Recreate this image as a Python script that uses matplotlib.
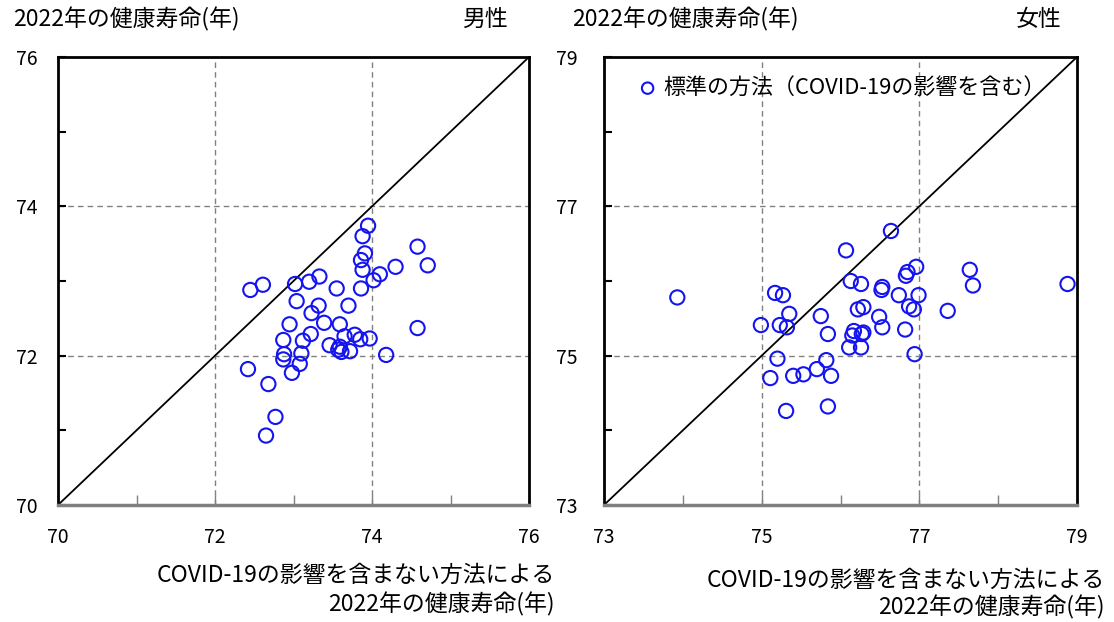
"""Healthy life expectancy 2022: standard method vs. COVID-19-excluded method, by prefecture."""

import matplotlib
matplotlib.use("Agg")
import matplotlib.pyplot as plt
from matplotlib.ticker import FixedLocator

plt.rcParams["font.family"] = ["Noto Sans CJK JP", "DejaVu Sans"]

# Men: x = method excluding COVID-19, y = standard method (years)
male_excl = [73.95, 73.88, 74.58, 73.91, 73.86, 73.88, 74.30, 74.71, 74.10, 74.02,
             73.86, 72.45, 72.61, 73.02, 73.20, 73.33, 73.55, 73.04, 73.32, 73.23,
             73.70, 72.95, 73.39, 73.59, 74.58, 73.22, 73.12, 72.87, 73.78, 73.65,
             73.85, 73.97, 73.46, 73.59, 73.61, 73.72, 72.88, 73.10, 72.87, 73.08,
             72.98, 74.18, 72.42, 72.68, 72.77, 72.65, 73.57]
male_std = [73.74, 73.60, 73.46, 73.37, 73.28, 73.15, 73.19, 73.21, 73.09, 73.01,
            72.90, 72.88, 72.95, 72.96, 72.99, 73.06, 72.90, 72.73, 72.67, 72.57,
            72.67, 72.42, 72.44, 72.42, 72.37, 72.29, 72.20, 72.21, 72.28, 72.26,
            72.22, 72.23, 72.14, 72.12, 72.05, 72.06, 72.02, 72.03, 71.95, 71.89,
            71.77, 72.01, 71.82, 71.62, 71.18, 70.93, 72.08]

# Women
female_excl = [73.93, 75.17, 75.27, 75.35, 74.99, 75.23, 75.32, 75.75, 75.84, 75.20,
               75.11, 75.40, 75.53, 75.70, 75.82, 75.88, 75.31, 75.84, 76.07, 76.64,
               76.13, 76.26, 76.53, 76.52, 76.74, 76.85, 76.83, 76.96, 76.99, 76.87,
               76.93, 76.22, 76.29, 76.49, 76.53, 76.82, 76.17, 76.15, 76.29, 76.27,
               76.11, 76.26, 76.94, 77.64, 77.68, 77.36, 78.88]
female_std = [75.78, 75.84, 75.81, 75.56, 75.41, 75.41, 75.38, 75.53, 75.29, 74.96,
              74.70, 74.73, 74.75, 74.82, 74.94, 74.73, 74.26, 74.32, 76.41, 76.67,
              76.00, 75.96, 75.92, 75.88, 75.81, 76.12, 76.07, 76.19, 75.81, 75.66,
              75.62, 75.62, 75.65, 75.52, 75.38, 75.35, 75.33, 75.27, 75.31, 75.29,
              75.11, 75.11, 75.02, 76.15, 75.94, 75.60, 75.96]

male_range = (70, 76)
female_range = (73, 79)
male_ticks = [70, 72, 74, 76]
female_ticks = [73, 75, 77, 79]
male_minor = [71, 73, 75]
female_minor = [74, 76, 78]

Y_TITLE = "2022年の健康寿命(年)"
X_TITLE_1 = "COVID-19の影響を含まない方法による"
X_TITLE_2 = "2022年の健康寿命(年)"
LEGEND_LABEL = "標準の方法（COVID-19の影響を含む）"

W, H = 1114, 622
fig = plt.figure(figsize=(W / 100, H / 100), dpi=100)


def px_axes(left, top, right, bottom):
    return fig.add_axes([left / W, 1 - bottom / H, (right - left) / W, (bottom - top) / H])


def draw_panel(ax, xs, ys, lim, ticks, minor, ypad):
    lo, hi = lim
    # dashed grid only at the inner major ticks
    for g in ticks[1:-1]:
        ax.axvline(g, color="#808080", linestyle=(0, (4, 3)), linewidth=1.0, zorder=1)
        ax.axhline(g, color="#808080", linestyle=(0, (4, 3)), linewidth=1.0, zorder=1)
    ax.plot([lo, hi], [lo, hi], color="black", linewidth=1.3, zorder=2)
    ax.scatter(xs, ys, s=105, facecolors="none", edgecolors="#1414F0",
               linewidths=1.5, zorder=3, label=LEGEND_LABEL)
    ax.set_xlim(lo, hi)
    ax.set_ylim(lo, hi)
    ax.xaxis.set_major_locator(FixedLocator(ticks))
    ax.yaxis.set_major_locator(FixedLocator(ticks))
    ax.xaxis.set_minor_locator(FixedLocator(minor))
    ax.yaxis.set_minor_locator(FixedLocator(minor))
    ax.tick_params(axis="x", which="both", direction="in", length=7, width=1,
                   color="#808080", labelsize=14, pad=16, top=False)
    ax.tick_params(axis="y", which="both", direction="in", length=6, width=1.5,
                   color="black", labelsize=14, pad=ypad, right=False)
    for side in ("left", "top", "right"):
        ax.spines[side].set_color("black")
        ax.spines[side].set_linewidth(2.0)
    ax.spines["bottom"].set_color("#808080")
    ax.spines["bottom"].set_linewidth(2.5)


ax_m = px_axes(58, 57, 529, 505)
draw_panel(ax_m, male_excl, male_std, male_range, male_ticks, male_minor, ypad=15)

ax_f = px_axes(604, 57, 1077, 505)
draw_panel(ax_f, female_excl, female_std, female_range, female_ticks, female_minor, ypad=19)
ax_f.legend(loc="center left", bbox_to_anchor=(0.069, 0.931), frameon=False,
            borderaxespad=0, borderpad=0, handlelength=1.0, handletextpad=0.2,
            fontsize=15.8, markerscale=0.8)

# Titles above each panel
fig.text(13 / W, 1 - 19 / H, Y_TITLE, fontsize=16.5, va="center", ha="left")
fig.text(508 / W, 1 - 19 / H, "男性", fontsize=16.5, va="center", ha="right")
fig.text(572 / W, 1 - 19 / H, Y_TITLE, fontsize=16.5, va="center", ha="left")
fig.text(1062 / W, 1 - 19 / H, "女性", fontsize=16.5, va="center", ha="right")

# x-axis captions, right-aligned under each panel
fig.text(555 / W, 1 - 575 / H, X_TITLE_1, fontsize=16.5, va="center", ha="right")
fig.text(555 / W, 1 - 604 / H, X_TITLE_2, fontsize=16.5, va="center", ha="right")
fig.text(1105 / W, 1 - 580 / H, X_TITLE_1, fontsize=16.5, va="center", ha="right")
fig.text(1105 / W, 1 - 607 / H, X_TITLE_2, fontsize=16.5, va="center", ha="right")

fig.savefig("out.png", dpi=100)
